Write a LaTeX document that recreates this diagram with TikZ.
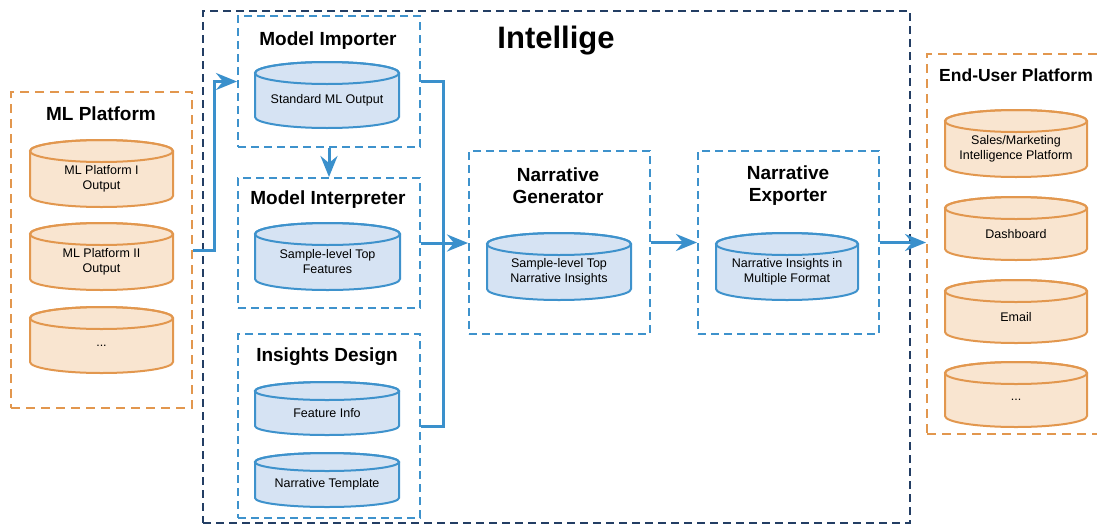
\documentclass[tikz,border=0pt]{standalone}
\usepackage{fontspec}
\setmainfont{Liberation Sans}
\usetikzlibrary{arrows.meta,calc}
\definecolor{navy}{RGB}{35,62,100}
\definecolor{bline}{RGB}{62,146,204}
\definecolor{bfill}{RGB}{214,227,243}
\definecolor{oline}{RGB}{226,151,78}
\definecolor{ofill}{RGB}{249,229,208}
\definecolor{conncol}{RGB}{58,144,204}
\tikzset{
  boxbase/.style={draw, line width=2pt, rectangle, inner sep=0pt, fill=none},
  navybox/.style={boxbase, draw=navy, dash pattern=on 8pt off 5pt},
  bluebox/.style={boxbase, draw=bline, dash pattern=on 8pt off 5pt},
  orangebox/.style={boxbase, draw=oline, dash pattern=on 9pt off 6pt},
  cylline/.style={line width=2pt},
  cyltext/.style={font=\fontsize{12.5}{15}\selectfont, align=center, inner sep=0pt},
  ttl/.style={font=\bfseries\fontsize{19}{22}\selectfont, align=center, inner sep=0pt},
  conn/.style={draw=conncol, line width=3pt},
  arr/.style={conn, -{Stealth[length=21pt,width=17pt,inset=7pt]}},
}
\newcommand\dbox[6]{\node[#6, anchor=north west, minimum width={(#4-#2)*1pt}, minimum height={(#5-#3)*1pt}] (#1) at (#2,-#3) {};}
\newcommand\dbcyl[8]{%
  \path[draw=#7line, fill=#7fill, cylline] (#2,{-#3-#6}) -- (#2,{-#5+#6})
    arc[start angle=180,end angle=360,x radius={(#4-#2)/2},y radius=#6]
    -- (#4,{-#3-#6})
    arc[start angle=0,end angle=180,x radius={(#4-#2)/2},y radius=#6] -- cycle;
  \draw[draw=#7line, cylline] ({(#2+#4)/2},{-#3-#6}) ellipse[x radius={(#4-#2)/2}, y radius=#6];
  \node[cyltext] (#1) at ({(#2+#4)/2},{-(#3+#5)/2-#6/2}) {#8};
}
\begin{document}
\begin{tikzpicture}[x=1pt,y=1pt]
\useasboundingbox (0,0) rectangle (1097,-525);
% containers
\dbox{intel}{202}{10}{909}{522}{navybox}
\dbox{mlp}{10}{91}{191}{407}{orangebox}
\dbox{imp}{237}{15}{419}{146}{bluebox}
\dbox{int}{237}{177}{419}{307}{bluebox}
\dbox{ins}{237}{333}{419}{517}{bluebox}
\dbox{gen}{468}{150}{649}{333}{bluebox}
\dbox{exp}{697}{150}{878}{333}{bluebox}
\dbox{eup}{926}{53}{1106}{433}{orangebox}
% titles
\node[ttl, font=\bfseries\fontsize{31}{36}\selectfont] (t-intel) at (556,-41) {Intellige};
\node[ttl] (t-mlp) at (101,-114) {ML Platform};
\node[ttl] (t-imp) at (328,-41) {Model Importer};
\node[ttl] (t-int) at (328,-200) {Model Interpreter};
\node[ttl] (t-ins) at (327,-357) {Insights Design};
\node[ttl] (t-gen) at (558,-186) {Narrative\\Generator};
\node[ttl] (t-exp) at (788,-186) {Narrative\\Exporter};
\node[ttl, font=\bfseries\fontsize{17.5}{21}\selectfont] (t-eup) at (1016,-75) {End-User Platform};
% cylinders
\dbcyl{ml1}{30}{140}{173}{207}{11}{o}{ML Platform I\\Output}
\dbcyl{ml2}{30}{223}{173}{290}{11}{o}{ML Platform II\\Output}
\dbcyl{ml3}{30}{307}{173}{373}{11}{o}{...}
\dbcyl{c-imp}{255}{62}{399}{128}{11}{b}{Standard ML Output}
\dbcyl{c-int}{255}{223}{400}{290}{11}{b}{Sample-level Top\\Features}
\dbcyl{c-fi}{255}{382}{399}{435}{9}{b}{Feature Info}
\dbcyl{c-nt}{255}{453}{399}{507}{9}{b}{Narrative Template}
\dbcyl{c-gen}{487}{233}{631}{300}{11}{b}{Sample-level Top\\Narrative Insights}
\dbcyl{c-exp}{716}{233}{858}{300}{11}{b}{Narrative Insights in\\Multiple Format}
\dbcyl{eu1}{945}{110}{1087}{177}{11}{o}{Sales/Marketing\\Intelligence Platform}
\dbcyl{eu2}{945}{197}{1087}{260}{11}{o}{Dashboard}
\dbcyl{eu3}{945}{280}{1087}{343}{11}{o}{Email}
\dbcyl{eu4}{945}{362}{1087}{427}{11}{o}{...}
% connectors
\coordinate (j1) at (214,0);
\coordinate (j2) at (443,0);
\draw[arr] (mlp.east) -| (j1 |- imp.west) -- (imp.west);
\draw[arr] (imp.south) -- (int.north);
\draw[conn] (imp.east) -| (j2 |- gen.west);
\draw[conn] (ins.east) -| (j2 |- gen.west);
\draw[arr] (int.east) -- (int.east -| gen.west);
\draw[arr] (gen.east) -- (gen.east -| exp.west);
\draw[arr] (exp.east) -- (exp.east -| eup.west);
\end{tikzpicture}
\end{document}
